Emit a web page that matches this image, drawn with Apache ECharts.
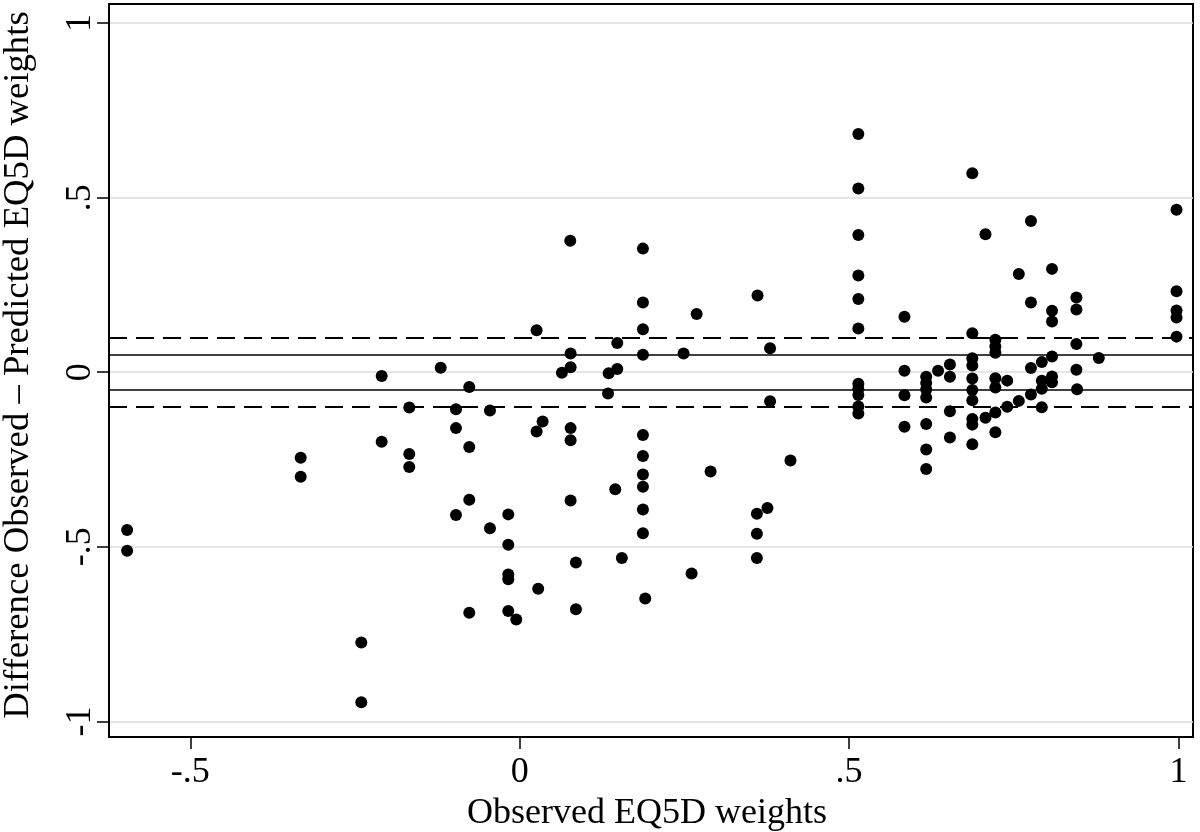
<!DOCTYPE html>
<html>
<head>
<meta charset="utf-8">
<script src="https://cdn.jsdelivr.net/npm/echarts@6/dist/echarts.min.js"></script>
<style>
html,body{margin:0;padding:0;background:#fff;}
#chart{width:1200px;height:832px;}
</style>
</head>
<body>
<div id="chart"></div>
<script>
// Observed EQ5D weights (x) and Observed - Predicted differences (y)
const observed = [
  -0.596,-0.596,-0.3325,-0.3325,-0.2405,-0.2405,-0.2096,-0.2096,-0.1677,-0.1677,-0.1677,-0.120,
  -0.0968,-0.0968,-0.0968,-0.0766,-0.0766,-0.0766,-0.0766,-0.0452,-0.0452,
  -0.0174,-0.0174,-0.0174,-0.0174,-0.0174,-0.0053,
  0.0256,0.0347,0.0256,0.028,
  0.0767,0.0772,0.0772,0.064,0.0772,0.0772,0.0772,0.0853,0.0853,
  0.148,0.135,0.148,0.134,0.145,0.155,
  0.187,0.187,0.187,0.187,0.187,0.187,0.187,0.187,0.187,0.187,0.1905,
  0.2487,0.2685,0.2897,0.2609,
  0.361,0.380,0.380,0.411,0.376,0.360,0.360,0.360,
  0.514,0.514,0.514,0.514,0.514,0.514,0.514,0.514,0.514,0.514,0.514,
  0.584,0.584,0.584,0.584,
  0.617,0.617,0.617,0.617,0.617,0.617,0.617,0.635,
  0.653,0.653,0.653,0.653,
  0.687,0.687,0.687,0.687,0.687,0.687,0.687,0.687,0.687,0.687,
  0.707,0.707,
  0.722,0.722,0.722,0.722,0.722,0.722,0.722,
  0.740,0.740,0.7576,0.7576,
  0.776,0.776,0.776,0.776,
  0.7925,0.7925,0.7925,0.7925,
  0.808,0.808,0.808,0.808,0.808,0.808,
  0.845,0.845,0.845,0.845,0.846,0.879,
  0.997,0.997,0.997,0.997,0.997
];
const difference = [
  -0.452,-0.511,-0.245,-0.299,-0.774,-0.945,-0.011,-0.199,-0.101,-0.234,-0.271,0.013,
  -0.106,-0.160,-0.409,-0.0425,-0.214,-0.365,-0.689,-0.1095,-0.447,
  -0.407,-0.494,-0.579,-0.593,-0.684,-0.708,
  0.12,-0.141,-0.170,-0.620,
  0.3765,0.054,0.014,-0.0014,-0.160,-0.195,-0.367,-0.545,-0.679,
  0.084,-0.003,0.009,-0.061,-0.335,-0.532,
  0.354,0.200,0.123,0.050,-0.180,-0.240,-0.293,-0.328,-0.393,-0.461,-0.648,
  0.054,0.167,-0.284,-0.576,
  0.220,0.069,-0.083,-0.253,-0.389,-0.405,-0.4625,-0.532,
  0.682,0.5265,0.393,0.277,0.210,0.125,-0.033,-0.048,-0.065,-0.098,-0.118,
  0.159,0.004,-0.066,-0.156,
  -0.013,-0.031,-0.049,-0.072,-0.148,-0.221,-0.277,0.004,
  0.022,-0.013,-0.112,-0.187,
  0.570,0.112,0.040,0.019,-0.018,-0.051,-0.080,-0.134,-0.150,-0.206,
  0.395,-0.130,
  0.093,0.074,0.056,-0.017,-0.044,-0.115,-0.172,
  -0.024,-0.099,0.281,-0.082,
  0.433,0.1994,0.012,-0.064,
  0.029,-0.024,-0.047,-0.100,
  0.296,0.176,0.145,0.045,-0.012,-0.029,
  0.214,0.180,0.081,0.007,-0.049,0.041,
  0.465,0.232,0.177,0.157,0.102
];
const xTicks = [-0.5, 0, 0.5, 1];
const yTicks = [-1, -0.5, 0, 0.5, 1];
const innerLimits = [-0.05, 0.05];
const outerLimits = [-0.1, 0.1];
const xTitle = 'Observed EQ5D weights';
const yTitle = 'Difference Observed \u2013 Predicted EQ5D weights';

const FONT = 'Liberation Serif';
function fmt(v) {
  if (v === 0) return '0';
  const s = String(Math.abs(v)).replace(/^0/, '');
  return (v < 0 ? '-' : '') + s;
}

const points = observed.map((x, i) => [x, difference[i]]);

const chart = echarts.init(document.getElementById('chart'), null, {renderer: 'canvas'});
chart.setOption({
  animation: false,
  backgroundColor: '#fff',
  textStyle: {fontFamily: FONT, color: '#000'},
  grid: {
    left: 109, right: 7, top: 4, bottom: 95,
    show: true, borderColor: '#000', borderWidth: 2, backgroundColor: 'transparent',
    containLabel: false, outerBoundsMode: 'none'
  },
  xAxis: {
    type: 'value',
    min: -0.6235, max: 1.022,
    name: xTitle,
    nameLocation: 'middle',
    nameGap: 58,
    nameTextStyle: {fontFamily: FONT, fontSize: 36, color: '#000', padding: [0, 8, 0, 0]},
    axisLine: {show: true, onZero: false, lineStyle: {color: '#000', width: 2}},
    axisTick: {show: true, length: 12, inside: false, customValues: xTicks, lineStyle: {color: '#000', width: 1.5}},
    axisLabel: {show: true, customValues: xTicks, margin: 18, fontFamily: FONT, fontSize: 36, color: '#000', formatter: fmt},
    splitLine: {show: false}
  },
  yAxis: {
    type: 'value',
    min: -1.0445, max: 1.0545,
    name: yTitle,
    nameLocation: 'middle',
    nameRotate: 90,
    nameGap: 72,
    nameTextStyle: {fontFamily: FONT, fontSize: 36.7, color: '#000', padding: [0, 0, 0, 11]},
    axisLine: {show: true, onZero: false, lineStyle: {color: '#000', width: 2}},
    axisTick: {show: true, length: 12, inside: false, customValues: yTicks, lineStyle: {color: '#000', width: 1.5}},
    axisLabel: {show: true, customValues: yTicks, rotate: 90, margin: 10, fontFamily: FONT, fontSize: 36, color: '#000', formatter: fmt},
    splitLine: {show: true, lineStyle: {color: '#dcdcdc', width: 1.5}}
  },
  series: [
    {
      type: 'scatter',
      data: [],
      z: 1,
      silent: true,
      markLine: {
        silent: true,
        symbol: ['none', 'none'],
        label: {show: false},
        animation: false,
        data: [
          ...outerLimits.map(v => ({yAxis: v, lineStyle: {color: '#000', width: 2, type: [18, 9]}})),
          ...innerLimits.map(v => ({yAxis: v, lineStyle: {color: '#000', width: 1.5, type: 'solid'}}))
        ]
      }
    },
    {
      type: 'scatter',
      data: points,
      z: 3,
      symbol: 'circle',
      symbolSize: 12,
      itemStyle: {color: '#000', opacity: 1}
    }
  ]
});
</script>
</body>
</html>
